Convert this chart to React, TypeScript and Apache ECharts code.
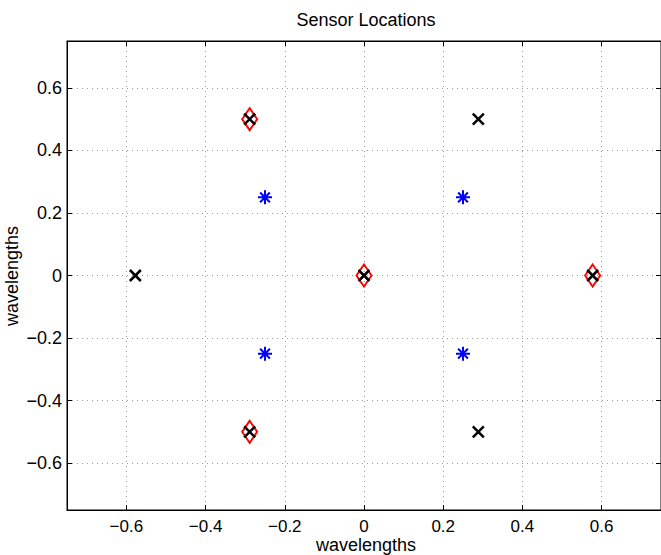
import React, { useEffect, useRef } from "react";
import * as echarts from "echarts";

// Black "x" sensor positions (hexagon + centre)
const sensorX = [0, 0.5774, 0.2887, -0.2887, -0.5774, -0.2887, 0.2887];
const sensorY = [0, 0, 0.5, 0.5, 0, -0.5, -0.5];
// Red diamond (selected) sensors
const selectedX = [-0.2887, 0, 0.5774, -0.2887];
const selectedY = [0.5, 0, 0, -0.5];
// Blue asterisks
const refX = [-0.25, 0.25, -0.25, 0.25];
const refY = [0.25, 0.25, -0.25, -0.25];

const axisMin = -0.75;
const axisMax = 0.75;
const titleText = "Sensor Locations";
const xName = "wavelengths";
const yName = "wavelengths";

const FONT = "Liberation Sans, Arial, Helvetica, sans-serif";

const zip = (xs: number[], ys: number[]) => xs.map((x, i) => [x, ys[i]]);

const fmt = (v: number) => {
  if (Math.abs(v) > 0.7) return "";
  if (Math.abs(v) < 1e-9) return "0";
  return String(+v.toFixed(1)).replace("-", "\u2212");
};

export default function App() {
  const ref = useRef<HTMLDivElement>(null);
  useEffect(() => {
    if (!ref.current) return;
    const chart = echarts.init(ref.current, undefined, { renderer: "svg" });
    const gridLine = { show: true, lineStyle: { color: "#9a9a9a", type: [1, 4] as any, width: 1 } };
    const tick = { show: true, inside: true, length: 5, lineStyle: { color: "#000", width: 1 } };
    const line = { show: true, onZero: false, lineStyle: { color: "#000", width: 1 } };
    const label = { color: "#000", fontSize: 17, fontFamily: FONT, formatter: fmt, showMinLabel: false, showMaxLabel: false };
    chart.setOption({
      animation: false,
      backgroundColor: "#fff",
      grid: { left: 67, top: 41, width: 596, height: 469, show: true, borderColor: "#000", borderWidth: 1, backgroundColor: "#fff" },
      graphic: [
        { type: "text", x: 366, y: 20, style: { text: titleText, align: "center", verticalAlign: "middle", fontSize: 18, fontFamily: FONT, fill: "#000" } },
        { type: "text", x: 366, y: 545, style: { text: xName, align: "center", verticalAlign: "middle", fontSize: 18, fontFamily: FONT, fill: "#000" } },
        { type: "text", x: 12, y: 276, rotation: Math.PI / 2, style: { text: yName, align: "center", verticalAlign: "middle", fontSize: 18, fontFamily: FONT, fill: "#000" } },
      ],
      xAxis: [
        { type: "value", min: axisMin, max: axisMax, splitNumber: 7, position: "bottom", axisLine: line, axisTick: tick, splitLine: gridLine, axisLabel: { ...label, margin: 8 } },
        { type: "value", min: axisMin, max: axisMax, splitNumber: 7, position: "top", axisLine: line, axisTick: tick, splitLine: { show: false }, axisLabel: { show: false } },
      ],
      yAxis: [
        { type: "value", min: axisMin, max: axisMax, splitNumber: 7, position: "left", axisLine: line, axisTick: tick, splitLine: gridLine, axisLabel: { ...label, fontSize: 18, margin: 5 } },
        { type: "value", min: axisMin, max: axisMax, splitNumber: 7, position: "right", axisLine: line, axisTick: tick, splitLine: { show: false }, axisLabel: { show: false } },
      ],
      series: [
        {
          type: "scatter",
          data: zip(selectedX, selectedY),
          symbol: "path://M0,-1L1,0L0,1L-1,0Z",
          symbolSize: [15, 22],
          itemStyle: { color: "rgba(0,0,0,0)", borderColor: "#ff0000", borderWidth: 2, opacity: 1 },
          z: 2,
        },
        {
          type: "scatter",
          data: zip(sensorX, sensorY),
          symbol: "path://M-1,-1L1,1M-1,1L1,-1",
          symbolSize: 11,
          itemStyle: { color: "rgba(0,0,0,0)", borderColor: "#000", borderWidth: 2.5, opacity: 1 },
          z: 3,
        },
        {
          type: "scatter",
          data: zip(refX, refY),
          symbol: "path://M0,-1L0,1M-1,0L1,0M-0.7,-0.7L0.7,0.7M-0.7,0.7L0.7,-0.7",
          symbolSize: 14,
          itemStyle: { color: "rgba(0,0,0,0)", borderColor: "#0000ff", borderWidth: 2, opacity: 1 },
          z: 3,
        },
      ],
    });
    return () => chart.dispose();
  }, []);
  return <div ref={ref} style={{ position: "fixed", left: 0, top: 0, width: 661, height: 555 }} />;
}
